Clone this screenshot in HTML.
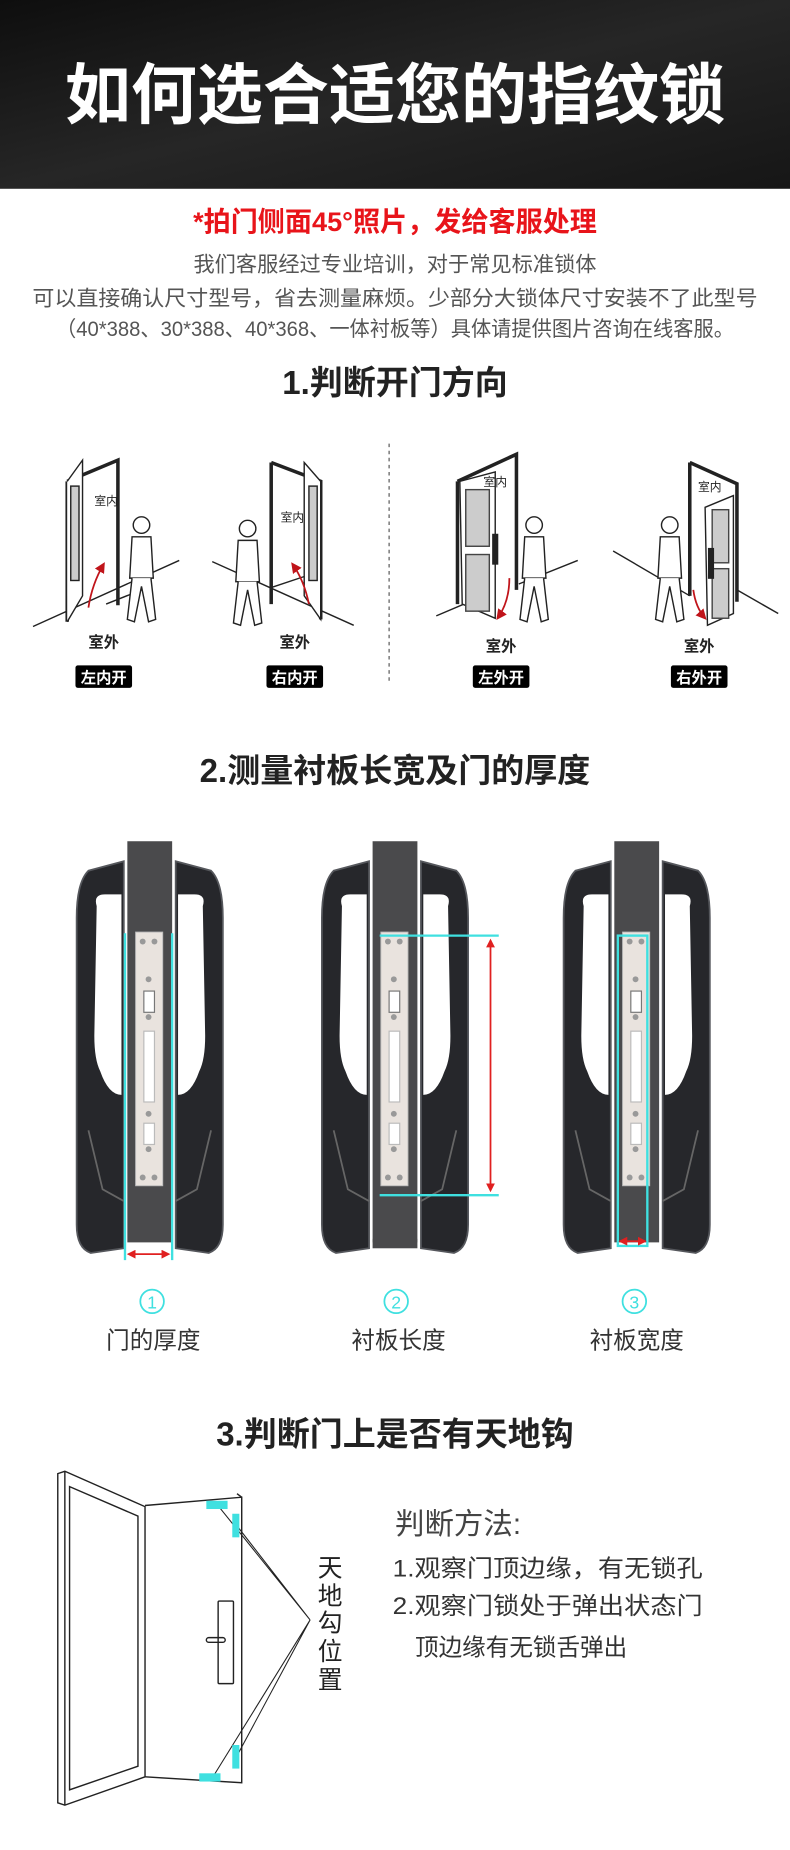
<!DOCTYPE html>
<html><head><meta charset="utf-8"><style>
html,body{margin:0;padding:0;background:#fff}
svg{display:block}
text{font-family:"Liberation Sans","Noto Sans CJK SC",sans-serif}
</style></head><body>
<svg width="790" height="1850" viewBox="0 0 670 1568" preserveAspectRatio="none" xmlns="http://www.w3.org/2000/svg">
<defs>
<linearGradient id="hd" x1="0" y1="0" x2="1" y2="1"><stop offset="0" stop-color="#0e0e0e"/><stop offset="0.5" stop-color="#262626"/><stop offset="1" stop-color="#161616"/></linearGradient>
<marker id="ar" viewBox="0 0 10 10" refX="8" refY="5" markerWidth="5" markerHeight="5" orient="auto-start-reverse"><path d="M0,0L10,5L0,10z" fill="#e02020"/></marker>
<marker id="ar2" viewBox="0 0 10 10" refX="8" refY="5" markerWidth="6" markerHeight="6" orient="auto"><path d="M0,0L10,5L0,10z" fill="#c0141a"/></marker>
<g id="lock">
 <path d="M-22,-168 L-52,-160 Q-62,-150 -62,-120 L-62,140 Q-62,160 -50,164 L-22,160 Z" fill="#26272b" stroke="#55575c" stroke-width="1.5"/>
 <path d="M-45,-130 Q-48,-140 -38,-140 L-24,-140 L-24,30 Q-35,30 -42,10 Q-47,0 -47,-20 Z" fill="#fff"/>
 <path d="M22,-168 L52,-160 Q62,-150 62,-120 L62,140 Q62,160 50,164 L22,160 Z" fill="#26272b" stroke="#55575c" stroke-width="1.5"/>
 <path d="M45,-130 Q48,-140 38,-140 L24,-140 L24,30 Q35,30 42,10 Q47,0 47,-20 Z" fill="#fff"/>
 <path d="M-52,60 L-40,110 L-22,120 M52,60 L40,110 L22,120" stroke="#666" stroke-width="1.5" fill="none"/>
 <rect x="-19" y="-185" width="38" height="340" fill="#4a4a4c"/>
 <rect x="-12" y="-108" width="23" height="215" fill="#e9e3de" stroke="#bbb" stroke-width="0.8"/>
 <g fill="#999"><circle cx="-6" cy="-100" r="2.5"/><circle cx="4" cy="-100" r="2.5"/><circle cx="-6" cy="100" r="2.5"/><circle cx="4" cy="100" r="2.5"/><circle cx="-1" cy="-68" r="2.5"/><circle cx="-1" cy="-36" r="2.5"/><circle cx="-1" cy="46" r="2.5"/><circle cx="-1" cy="76" r="2.5"/></g>
 <rect x="-5" y="-58" width="9" height="18" fill="#fff" stroke="#777"/>
 <rect x="-5" y="-24" width="9" height="60" fill="#fff" stroke="#bbb"/>
 <rect x="-5" y="54" width="9" height="18" fill="#fff" stroke="#bbb"/>
</g>
<g id="man" fill="#fff" stroke="#222" stroke-width="1.2">
 <circle cx="0" cy="0" r="7"/>
 <path d="M-8,10 L8,10 L10,45 L-10,45 Z"/>
 <path d="M-8,45 L-12,80 L-6,82 L0,52 L6,82 L12,80 L8,45"/>
</g>
</defs>

<rect x="0" y="0" width="670" height="160" fill="url(#hd)"/>
<text x="335" y="100" text-anchor="middle" font-size="56" font-weight="bold" fill="#fff">如何选合适您的指纹锁</text>

<text x="335" y="196" text-anchor="middle" font-size="23" font-weight="bold" fill="#e8141a">*拍门侧面45°照片，发给客服处理</text>
<g font-size="18" fill="#555" text-anchor="middle">
<text x="335" y="230">我们客服经过专业培训，对于常见标准锁体</text>
<text x="335" y="259" textLength="615" lengthAdjust="spacingAndGlyphs">可以直接确认尺寸型号，省去测量麻烦。少部分大锁体尺寸安装不了此型号</text>
<text x="335" y="285" textLength="575" lengthAdjust="spacingAndGlyphs">（40*388、30*388、40*368、一体衬板等）具体请提供图片咨询在线客服。</text>
</g>

<text x="335" y="334" text-anchor="middle" font-size="28" font-weight="bold" fill="#222">1.判断开门方向</text>

<line x1="330" y1="376" x2="330" y2="580" stroke="#555" stroke-width="1" stroke-dasharray="3,3"/>

<!-- door 1 -->
<g stroke="#222" stroke-width="1.2" fill="none">
 <line x1="28" y1="531" x2="152" y2="475"/>
 <line x1="90" y1="512" x2="125" y2="498"/>
 <path d="M57,408 L100,390 L100,513" stroke-width="3"/>
 <path d="M57,408 L57,527" stroke-width="3"/>
 <path d="M57,408 L70,390 L70,505 L57,527" fill="#fff"/>
 <rect x="60" y="412" width="7" height="80" fill="#ccc"/>
</g>
<path d="M75,515 Q78,495 88,478" stroke="#c0141a" stroke-width="1.5" fill="none" marker-end="url(#ar2)"/>
<text x="80" y="428" font-size="10" fill="#222">室内</text>
<use href="#man" x="120" y="445"/>
<text x="88" y="549" text-anchor="middle" font-size="13" font-weight="bold" fill="#222">室外</text>
<rect x="64" y="564" width="48" height="19" rx="2" fill="#000"/>
<text x="88" y="579" text-anchor="middle" font-size="13" font-weight="bold" fill="#fff">左内开</text>

<!-- door 2 -->
<g stroke="#222" stroke-width="1.2" fill="none">
 <line x1="180" y1="476" x2="300" y2="530"/>
 <line x1="230" y1="498" x2="260" y2="488"/>
 <path d="M230,392 L272,408 L272,525" stroke-width="3"/>
 <path d="M230,392 L230,512" stroke-width="3"/>
 <path d="M258,392 L272,408 L272,525 L258,505 Z" fill="#fff"/>
 <rect x="262" y="412" width="7" height="80" fill="#ccc"/>
</g>
<path d="M262,512 Q258,492 248,478" stroke="#c0141a" stroke-width="1.5" fill="none" marker-end="url(#ar2)"/>
<text x="238" y="442" font-size="10" fill="#222">室内</text>
<use href="#man" x="210" y="448"/>
<text x="250" y="549" text-anchor="middle" font-size="13" font-weight="bold" fill="#222">室外</text>
<rect x="226" y="564" width="48" height="19" rx="2" fill="#000"/>
<text x="250" y="579" text-anchor="middle" font-size="13" font-weight="bold" fill="#fff">右内开</text>

<!-- door 3 -->
<g stroke="#222" stroke-width="1.2" fill="none">
 <line x1="370" y1="522" x2="410" y2="505"/>
 <line x1="440" y1="495" x2="490" y2="475"/>
 <path d="M388,408 L388,512" stroke-width="3"/>
 <path d="M388,408 L438,385 L438,500" stroke-width="3"/>
 <path d="M390,408 L420,400 L420,524 L392,512 Z" fill="#fff"/>
 <rect x="395" y="415" width="20" height="48" fill="#ccc" stroke="#444"/>
 <rect x="395" y="470" width="20" height="48" fill="#ccc" stroke="#444"/>
 <rect x="418" y="453" width="4" height="25" fill="#222"/>
</g>
<path d="M432,490 Q432,510 422,524" stroke="#c0141a" stroke-width="1.5" fill="none" marker-end="url(#ar2)"/>
<text x="410" y="412" font-size="10" fill="#222">室内</text>
<use href="#man" x="453" y="445"/>
<text x="425" y="552" text-anchor="middle" font-size="13" font-weight="bold" fill="#222">室外</text>
<rect x="401" y="564" width="48" height="19" rx="2" fill="#000"/>
<text x="425" y="579" text-anchor="middle" font-size="13" font-weight="bold" fill="#fff">左外开</text>

<!-- door 4 -->
<g stroke="#222" stroke-width="1.2" fill="none">
 <line x1="520" y1="467" x2="585" y2="505"/>
 <line x1="625" y1="500" x2="660" y2="520"/>
 <path d="M585,392 L585,505" stroke-width="3"/>
 <path d="M585,392 L625,410 L625,510" stroke-width="3"/>
 <path d="M598,430 L622,420 L622,520 L600,530 Z" fill="#fff"/>
 <rect x="604" y="432" width="14" height="45" fill="#ccc" stroke="#444"/>
 <rect x="604" y="482" width="14" height="42" fill="#ccc" stroke="#444"/>
 <rect x="601" y="465" width="4" height="25" fill="#222"/>
</g>
<path d="M588,500 Q590,515 598,524" stroke="#c0141a" stroke-width="1.5" fill="none" marker-end="url(#ar2)"/>
<text x="592" y="416" font-size="10" fill="#222">室内</text>
<use href="#man" x="568" y="445"/>
<text x="593" y="552" text-anchor="middle" font-size="13" font-weight="bold" fill="#222">室外</text>
<rect x="569" y="564" width="48" height="19" rx="2" fill="#000"/>
<text x="593" y="579" text-anchor="middle" font-size="13" font-weight="bold" fill="#fff">右外开</text>

<text x="335" y="663" text-anchor="middle" font-size="28" font-weight="bold" fill="#222">2.测量衬板长宽及门的厚度</text>

<use href="#lock" x="127" y="898"/>
<use href="#lock" x="335" y="898"/>
<use href="#lock" x="540" y="898"/>
<rect x="316" y="1050" width="38" height="8" fill="#4a4a4c"/>

<g stroke="#3fe0e0" stroke-width="2" fill="none">
 <line x1="106" y1="791" x2="106" y2="1068"/><line x1="146" y1="791" x2="146" y2="1068"/>
 <line x1="322" y1="793" x2="423" y2="793"/><line x1="322" y1="1013" x2="423" y2="1013"/>
 <rect x="524" y="793" width="25" height="263"/>
</g>
<g stroke="#e02020" stroke-width="1.5">
 <line x1="109" y1="1063" x2="143" y2="1063" marker-start="url(#ar)" marker-end="url(#ar)"/>
 <line x1="416" y1="797" x2="416" y2="1009" marker-start="url(#ar)" marker-end="url(#ar)"/>
 <line x1="526" y1="1052" x2="547" y2="1052" marker-start="url(#ar)" marker-end="url(#ar)"/>
</g>
<g fill="none" stroke="#3fe0e0" stroke-width="1.5">
 <circle cx="129" cy="1103" r="10"/><circle cx="336" cy="1103" r="10"/><circle cx="538" cy="1103" r="10"/>
</g>
<g font-size="15" fill="#3fe0e0" text-anchor="middle">
 <text x="129" y="1109">1</text><text x="336" y="1109">2</text><text x="538" y="1109">3</text>
</g>
<g font-size="20" fill="#333" text-anchor="middle">
 <text x="130" y="1143">门的厚度</text><text x="338" y="1143">衬板长度</text><text x="540" y="1143">衬板宽度</text>
</g>

<text x="335" y="1225" text-anchor="middle" font-size="28" font-weight="bold" fill="#222">3.判断门上是否有天地钩</text>

<g stroke="#222" stroke-width="1.2" fill="none">
 <path d="M49,1249 L55,1247 L123,1277 L123,1506 L55,1530 L49,1528 Z" fill="#fff"/>
 <path d="M55,1247 L55,1530"/>
 <path d="M59,1260 L117,1285 L117,1497 L59,1517 Z"/>
 <path d="M123,1276 L205,1269 L205,1511 L123,1506"/>
 <path d="M201,1266 L205,1269"/>
 <rect x="185" y="1357" width="13" height="70" rx="1"/>
 <rect x="175" y="1388" width="16" height="4" rx="2"/>
 <path d="M184,1275 L263,1373 L200,1292 M200,1490 L263,1373 L180,1507" stroke-width="0.9"/>
</g>
<g fill="#3fe0e0">
 <rect x="175" y="1272" width="18" height="7"/><rect x="197" y="1283" width="6" height="20"/>
 <rect x="197" y="1479" width="6" height="20"/><rect x="169" y="1503" width="18" height="7"/>
</g>
<g font-size="21" fill="#222" text-anchor="middle">
 <text x="280" y="1336">天</text><text x="280" y="1360">地</text><text x="280" y="1383">勾</text><text x="280" y="1407">位</text><text x="280" y="1431">置</text>
</g>
<text x="335" y="1300" font-size="25" fill="#444">判断方法:</text>
<g font-size="20" fill="#333">
 <text x="333" y="1336" textLength="263" lengthAdjust="spacingAndGlyphs">1.观察门顶边缘，有无锁孔</text>
 <text x="333" y="1368" textLength="263" lengthAdjust="spacingAndGlyphs">2.观察门锁处于弹出状态门</text>
 <text x="352" y="1403">顶边缘有无锁舌弹出</text>
</g>
</svg>
</body></html>
